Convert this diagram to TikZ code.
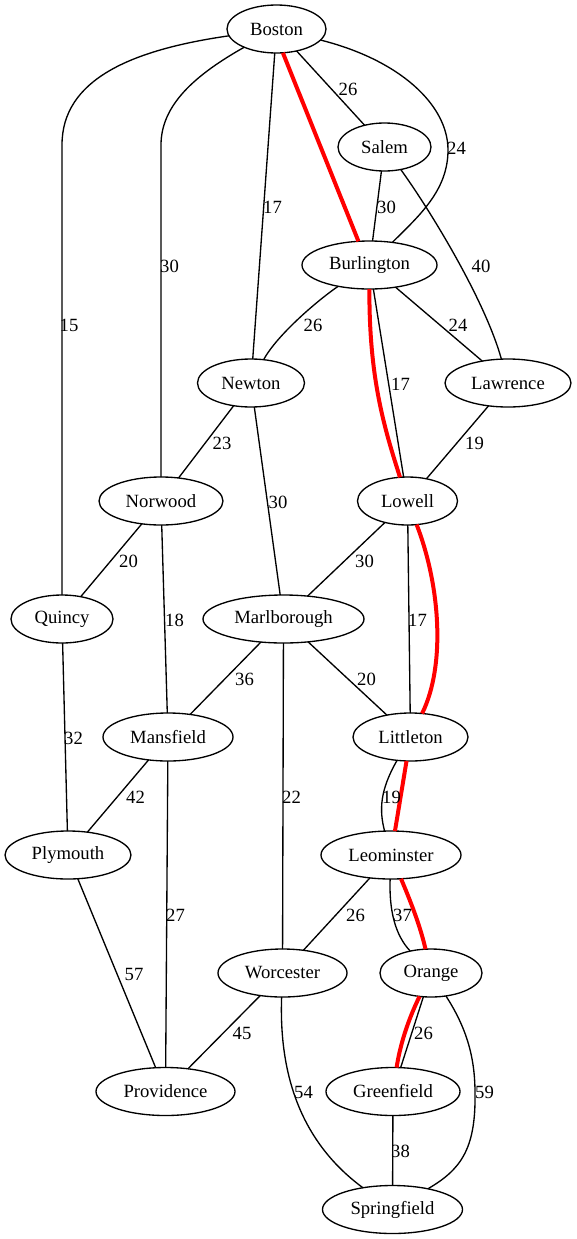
\documentclass[tikz,border=0pt]{standalone}
\usepackage{fontspec}
\setmainfont{Liberation Serif}
\usetikzlibrary{shapes.geometric}
\begin{document}
\begin{tikzpicture}[x=0.75pt,y=-0.75pt,
  city/.style={ellipse, draw=black, line width=1pt, inner sep=0pt, outer sep=0pt,
    minimum height=36pt, minimum width=#1*0.75pt, font=\fontsize{14}{16}\selectfont},
  road/.style={draw=black, line width=1pt},
  route/.style={draw=red, line width=3pt},
  wt/.style={inner sep=0pt, font=\fontsize{14}{16}\selectfont}]
\useasboundingbox (0,0) rectangle (577,1239);

% towns
\node[city=99]  (Boston)      at (276.5,29)   {Boston};
\node[city=93]  (Salem)       at (384.5,147)  {Salem};
\node[city=135] (Burlington)  at (369.5,265)  {Burlington};
\node[city=107] (Newton)      at (251,383)    {Newton};
\node[city=126] (Lawrence)    at (508,383)    {Lawrence};
\node[city=124] (Norwood)     at (161,501)    {Norwood};
\node[city=100] (Lowell)      at (407.5,501)  {Lowell};
\node[city=102] (Quincy)      at (62,619)     {Quincy};
\node[city=161] (Marlborough) at (283.5,619)  {Marlborough};
\node[city=130] (Mansfield)   at (168,737)    {Mansfield};
\node[city=115] (Littleton)   at (410.5,737)  {Littleton};
\node[city=126] (Plymouth)    at (68,855)     {Plymouth};
\node[city=140] (Leominster)  at (391,855)    {Leominster};
\node[city=129] (Worcester)   at (282.5,973)  {Worcester};
\node[city=102] (Orange)      at (431,973)    {Orange};
\node[city=139] (Providence)  at (165.5,1091.5) {Providence};
\node[city=134] (Greenfield)  at (393,1091.5) {Greenfield};
\node[city=140] (Springfield) at (392.5,1209.5) {Springfield};

% roads
\draw[road] (Boston) .. controls (130,50) and (62,80) .. (62,145) -- (Quincy);
\draw[road] (Boston) .. controls (195,75) and (161,105) .. (161,145) -- (Norwood);
\draw[road] (Boston) -- (Newton);
\draw[road] (Boston) -- (Salem);
\draw[road] (Boston) .. controls (400,60) and (448,105) .. (448,150)
                     .. controls (448,190) and (420,215) .. (Burlington);
\draw[road] (Salem) -- (Burlington);
\draw[road] (Salem) .. controls (430,210) and (485,300) .. (Lawrence);
\draw[road] (Burlington) .. controls (318,300) and (277,335) .. (Newton);
\draw[road] (Burlington) -- (Lawrence);
\draw[road] (Burlington) -- (Lowell);
\draw[road] (Lawrence) -- (Lowell);
\draw[road] (Newton) -- (Norwood);
\draw[road] (Newton) -- (Marlborough);
\draw[road] (Norwood) -- (Quincy);
\draw[road] (Norwood) -- (Mansfield);
\draw[road] (Lowell) -- (Marlborough);
\draw[road] (Lowell) -- (Littleton);
\draw[road] (Quincy) -- (Plymouth);
\draw[road] (Marlborough) -- (Mansfield);
\draw[road] (Marlborough) -- (Littleton);
\draw[road] (Marlborough) -- (Worcester);
\draw[road] (Mansfield) -- (Plymouth);
\draw[road] (Mansfield) -- (Providence);
\draw[road] (Littleton) .. controls (380,790) and (379,810) .. (Leominster);
\draw[road] (Plymouth) -- (Providence);
\draw[road] (Leominster) -- (Worcester);
\draw[road] (Leominster) .. controls (389,910) and (395,935) .. (Orange);
\draw[road] (Worcester) -- (Providence);
\draw[road] (Worcester) .. controls (279,1070) and (298,1140) .. (Springfield);
\draw[road] (Orange) -- (Greenfield);
\draw[road] (Orange) .. controls (468,1030) and (475,1060) .. (475,1093)
                     .. controls (476,1150) and (460,1170) .. (Springfield);
\draw[road] (Greenfield) -- (Springfield);

% shortest route
\draw[route] (Boston.-75) -- (Burlington.115);
\draw[route] (Burlington) .. controls (369,380) and (385,430) .. (Lowell);
\draw[route] (Lowell) .. controls (440,585) and (446,665) .. (Littleton);
\draw[route] (Littleton) -- (Leominster);
\draw[route] (Leominster) .. controls (410,900) and (420,925) .. (Orange);
\draw[route] (Orange) .. controls (408,1020) and (400,1045) .. (Greenfield);

% distances
\node[wt] (wBQu) at (69,325)    {15};
\node[wt] (wBNo) at (169.5,266) {30};
\node[wt] (wBNe) at (272.5,207) {17};
\node[wt] (wBSa) at (348,89)    {26};
\node[wt] (wBBu) at (456.5,148) {24};
\node[wt] (wSBu) at (386.5,207) {30};
\node[wt] (wSLa) at (481,266)   {40};
\node[wt] (wBuN) at (313,325)   {26};
\node[wt] (wBuL) at (458,325)   {24};
\node[wt] (wBLo) at (400.5,384) {17};
\node[wt] (wLaL) at (474.5,443) {19};
\node[wt] (wNNo) at (222,443)   {23};
\node[wt] (wNMa) at (278,502)   {30};
\node[wt] (wNoQ) at (128.5,561) {20};
\node[wt] (wLoM) at (364.5,561) {30};
\node[wt] (wNoM) at (174.5,620) {18};
\node[wt] (wLoL) at (417.5,620) {17};
\node[wt] (wQPl) at (73.5,738)  {32};
\node[wt] (wMMa) at (244.5,679) {36};
\node[wt] (wMLi) at (366.5,679) {20};
\node[wt] (wMPl) at (135.5,797) {42};
\node[wt] (wMWo) at (291.5,797) {22};
\node[wt] (wLiL) at (391.5,797) {19};
\node[wt] (wMPr) at (175.5,915) {27};
\node[wt] (wLeW) at (355.5,915) {26};
\node[wt] (wLeO) at (402.5,915) {37};
\node[wt] (wPPr) at (134,974)   {57};
\node[wt] (wWPr) at (242,1033)  {45};
\node[wt] (wOGr) at (423.5,1033) {26};
\node[wt] (wWSp) at (303.5,1092) {54};
\node[wt] (wOSp) at (484.5,1092) {59};
\node[wt] (wGSp) at (400.5,1151) {38};
\end{tikzpicture}
\end{document}
